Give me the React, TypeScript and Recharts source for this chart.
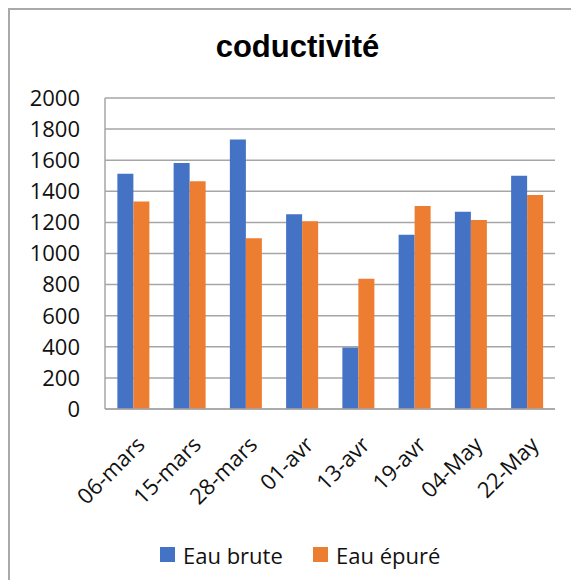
import { BarChart, Bar, XAxis, YAxis, CartesianGrid, Legend } from "recharts";

// values
const dates = ["06-mars", "15-mars", "28-mars", "01-avr", "13-avr", "19-avr", "04-May", "22-May"];
const eauBrute = [1513, 1582, 1733, 1252, 396, 1121, 1269, 1500];
const eauEpure = [1335, 1464, 1098, 1207, 837, 1305, 1216, 1376];
const yTicks = [0, 200, 400, 600, 800, 1000, 1200, 1400, 1600, 1800, 2000];

const data = dates.map((date, i) => ({ date, brute: eauBrute[i], epure: eauEpure[i] }));

const BLUE = "#4472C4";
const ORANGE = "#ED7D31";
const GRID = "#a6a6a6";
const FONT = "'Open Sans', sans-serif";

function DateTick(props: any) {
  const { x, y, payload } = props;
  const ax = x + 2;
  const ay = y + 26;
  return (
    <text
      x={ax}
      y={ay + 15.7}
      transform={`rotate(-45, ${ax}, ${ay})`}
      textAnchor="end"
      fontFamily={FONT}
      fontSize={22}
      fill="#111"
    >
      {payload.value}
    </text>
  );
}

function LegendBox() {
  const item = (left: number, color: string, label: string) => (
    <div style={{ position: "absolute", left, top: 0, height: 30, display: "flex", alignItems: "center" }}>
      <span style={{ width: 15, height: 15, background: color, display: "inline-block", marginRight: 8 }} />
      <span style={{ fontFamily: FONT, fontSize: 22, color: "#111", lineHeight: "30px" }}>{label}</span>
    </div>
  );
  return (
    <div style={{ position: "relative", width: 545, height: 30 }}>
      {item(150, BLUE, "Eau brute")}
      {item(303, ORANGE, "Eau épuré")}
    </div>
  );
}

export default function App() {
  return (
    <div
      style={{
        position: "relative",
        width: 563,
        height: 572,
        boxSizing: "border-box",
        borderTop: "2px solid #a9a9a9",
        borderLeft: "2px solid #a9a9a9",
        background: "#fff",
        overflow: "hidden",
      }}
    >
      <div
        style={{
          position: "absolute",
          left: 0,
          top: 21,
          width: 575,
          textAlign: "center",
          fontFamily: "'Liberation Sans', Arial, sans-serif",
          fontWeight: "bold",
          fontSize: 31,
          lineHeight: 1,
          color: "#000",
        }}
      >
        coductivité
      </div>
      <BarChart
        width={561}
        height={570}
        data={data}
        margin={{ top: 88, right: 16, bottom: 10.5, left: 0 }}
        barCategoryGap="22%"
        barGap={0}
      >
        <CartesianGrid vertical={false} stroke={GRID} strokeWidth={1.5} />
        <XAxis
          dataKey="date"
          interval={0}
          height={130.5}
          tickLine={false}
          tickSize={0}
          tickMargin={0}
          axisLine={{ stroke: GRID, strokeWidth: 1.5 }}
          tick={<DateTick />}
        />
        <YAxis
          width={95}
          domain={[0, 2000]}
          ticks={yTicks}
          interval={0}
          tickLine={false}
          tickSize={0}
          tickMargin={25}
          axisLine={{ stroke: GRID, strokeWidth: 1.5 }}
          tick={{ fontFamily: FONT, fontSize: 22, fill: "#111" }}
        />
        <Legend verticalAlign="bottom" height={30} content={() => <LegendBox />} />
        <Bar dataKey="brute" name="Eau brute" fill={BLUE} isAnimationActive={false} />
        <Bar dataKey="epure" name="Eau épuré" fill={ORANGE} isAnimationActive={false} />
      </BarChart>
    </div>
  );
}
